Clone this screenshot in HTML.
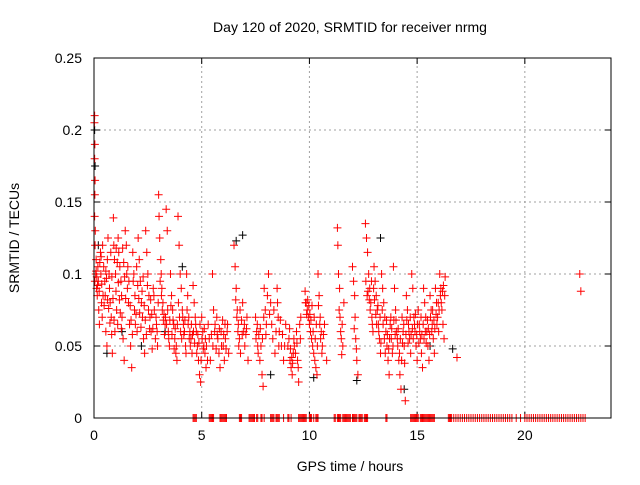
<!DOCTYPE html>
<html><head><meta charset="utf-8"><style>
body{margin:0;background:#fff}
svg text{font-family:"Liberation Sans",sans-serif;font-size:14px;fill:#000}
</style></head><body>
<svg id="chart" width="640" height="480" viewBox="0 0 640 480" xmlns="http://www.w3.org/2000/svg">
<rect width="640" height="480" fill="#fff"/>
<text x="350" y="32" text-anchor="middle">Day 120 of 2020, SRMTID for receiver nrmg</text>
<g id="grid"></g>
<g id="axes"></g>
<g id="black"></g>
<g id="red"></g>
<rect x="94" y="58" width="517" height="360" fill="none" stroke="#000" stroke-width="1"/>
<text x="350" y="471" text-anchor="middle">GPS time / hours</text>
<text transform="translate(19,238) rotate(-90)" text-anchor="middle">SRMTID / TECUs</text>
</svg>
<script>
const xTicks=[0,5,10,15,20];
const yTicks=[0,0.05,0.1,0.15,0.2,0.25];
const yTickLabels=["0","0.05","0.1","0.15","0.2","0.25"];
const redPts=[
[0.02,0.205],[0.03,0.21],[0.04,0.19],[0.03,0.18],[0.05,0.165],[0.04,0.155],[0.03,0.14],[0.06,0.13],[0.05,0.12],[0.04,0.095],[0.08,0.1],[0.1,0.11],[0.12,0.09],[0.15,0.085],[0.18,0.105],[0.2,0.095],[0.22,0.075],[0.25,0.065],[0.3,0.115],[0.32,0.1],[0.35,0.08],[0.38,0.07],[0.4,0.12],[0.45,0.105],[0.5,0.095],[0.52,0.085],[0.55,0.06],[0.6,0.05],[0.62,0.11],[0.65,0.125],[0.7,0.1],[0.72,0.09],[0.75,0.08],[0.8,0.07],[0.82,0.058],[0.85,0.045],[0.9,0.139],[0.92,0.12],[0.95,0.11],[1.0,0.1],[1.02,0.088],[1.05,0.075],[1.1,0.065],[1.12,0.125],[1.15,0.115],[1.2,0.105],[1.25,0.095],[1.28,0.085],[1.3,0.07],[1.35,0.055],[1.4,0.04],[1.45,0.13],[1.5,0.12],[1.52,0.1],[1.55,0.09],[1.6,0.08],[1.65,0.065],[1.7,0.05],[1.75,0.035],[1.8,0.115],[1.85,0.1],[1.9,0.085],[1.95,0.072],[2.0,0.06],[2.05,0.125],[2.1,0.11],[2.15,0.095],[2.2,0.08],[2.25,0.07],[2.3,0.055],[2.35,0.045],[2.4,0.13],[2.45,0.115],[2.5,0.1],[2.55,0.085],[2.6,0.07],[2.65,0.06],[2.7,0.048],[2.75,0.09],[2.8,0.075],[2.9,0.065],[2.95,0.05],[3.0,0.155],[3.02,0.14],[3.05,0.125],[3.1,0.11],[3.12,0.1],[3.15,0.09],[3.2,0.08],[3.25,0.072],[3.3,0.065],[3.35,0.145],[3.4,0.13],[3.45,0.06],[3.5,0.05],[3.55,0.1],[3.6,0.085],[3.65,0.075],[3.7,0.065],[3.75,0.055],[3.8,0.045],[3.85,0.04],[3.9,0.14],[3.95,0.12],[4.0,0.1],[4.05,0.09],[4.1,0.075],[4.15,0.065],[4.2,0.06],[4.25,0.05],[4.3,0.1],[4.35,0.085],[4.4,0.07],[4.45,0.06],[4.5,0.055],[4.55,0.045],[4.6,0.092],[4.65,0.08],[4.7,0.07],[4.75,0.06],[4.8,0.05],[4.85,0.04],[4.9,0.03],[4.95,0.025],[5.0,0.07],[5.05,0.06],[5.1,0.05],[5.15,0.045],[5.2,0.035],[5.3,0.065],[5.35,0.055],[5.4,0.04],[5.5,0.1],[5.55,0.075],[5.6,0.06],[5.7,0.07],[5.75,0.055],[5.8,0.045],[5.85,0.035],[5.9,0.06],[6.0,0.05],[6.05,0.04],[6.1,0.055],[6.2,0.065],[6.25,0.045],[6.5,0.12],[6.55,0.105],[6.6,0.09],[6.65,0.075],[6.7,0.065],[6.75,0.055],[6.8,0.045],[6.9,0.08],[6.95,0.06],[7.0,0.05],[7.1,0.07],[7.15,0.04],[7.5,0.07],[7.55,0.06],[7.6,0.05],[7.7,0.04],[7.8,0.03],[7.85,0.022],[7.9,0.09],[7.95,0.075],[8.0,0.065],[8.1,0.1],[8.2,0.08],[8.3,0.055],[8.4,0.045],[8.5,0.09],[8.55,0.07],[8.6,0.06],[8.7,0.05],[8.8,0.04],[8.9,0.065],[9.0,0.05],[9.05,0.055],[9.1,0.04],[9.15,0.035],[9.2,0.03],[9.25,0.045],[9.3,0.05],[9.4,0.06],[9.45,0.04],[9.5,0.025],[9.55,0.065],[9.6,0.07],[9.8,0.088],[9.85,0.08],[9.9,0.075],[9.95,0.07],[10.0,0.065],[10.05,0.06],[10.1,0.055],[10.15,0.05],[10.2,0.045],[10.25,0.04],[10.3,0.035],[10.35,0.03],[10.4,0.1],[10.45,0.085],[10.5,0.07],[10.55,0.06],[10.6,0.05],[10.7,0.065],[10.8,0.04],[11.3,0.132],[11.32,0.12],[11.35,0.1],[11.4,0.09],[11.42,0.07],[11.45,0.06],[11.5,0.044],[11.55,0.05],[11.6,0.08],[12.0,0.105],[12.05,0.095],[12.1,0.085],[12.15,0.055],[12.2,0.04],[12.25,0.03],[12.6,0.135],[12.65,0.125],[12.7,0.115],[12.75,0.1],[12.8,0.09],[12.85,0.08],[12.9,0.07],[12.95,0.06],[13.0,0.105],[13.05,0.095],[13.1,0.085],[13.15,0.075],[13.2,0.065],[13.25,0.055],[13.3,0.045],[13.35,0.1],[13.4,0.09],[13.45,0.08],[13.5,0.07],[13.55,0.06],[13.6,0.05],[13.65,0.04],[13.7,0.03],[13.75,0.065],[13.8,0.055],[13.85,0.045],[13.9,0.105],[13.95,0.09],[14.0,0.075],[14.05,0.06],[14.1,0.05],[14.15,0.04],[14.2,0.03],[14.25,0.02],[14.3,0.07],[14.35,0.06],[14.4,0.05],[14.45,0.012],[14.5,0.085],[14.55,0.075],[14.6,0.065],[14.65,0.055],[14.7,0.045],[14.75,0.1],[14.8,0.09],[14.85,0.07],[14.9,0.06],[14.95,0.05],[15.0,0.04],[15.05,0.075],[15.1,0.065],[15.15,0.055],[15.2,0.045],[15.25,0.035],[15.3,0.09],[15.35,0.08],[15.4,0.07],[15.45,0.06],[15.5,0.05],[15.55,0.04],[15.6,0.085],[15.65,0.075],[15.7,0.065],[15.75,0.055],[15.8,0.045],[15.85,0.09],[15.9,0.08],[15.95,0.07],[16.0,0.06],[16.05,0.1],[16.1,0.09],[16.15,0.075],[16.2,0.065],[16.25,0.055],[16.3,0.098],[16.85,0.042],[22.55,0.1],[22.6,0.088]
];
const redPtsExtra=[
[0.1,0.102],[0.13,0.098],[0.16,0.092],[0.24,0.088],[0.27,0.108],[0.33,0.112],[0.36,0.093],[0.42,0.085],[0.47,0.078],[0.55,0.102],[0.58,0.097],[0.63,0.082],[0.68,0.076],[0.74,0.066],[0.78,0.115],[0.83,0.098],[0.88,0.083],[0.93,0.068],[0.97,0.06],[1.03,0.118],[1.08,0.108],[1.13,0.094],[1.18,0.082],[1.22,0.073],[1.27,0.062],[1.33,0.118],[1.38,0.108],[1.42,0.098],[1.47,0.083],[1.57,0.105],[1.62,0.095],[1.68,0.078],[1.72,0.068],[1.78,0.058],[1.82,0.095],[1.88,0.075],[1.92,0.065],[1.98,0.105],[2.03,0.092],[2.08,0.083],[2.12,0.073],[2.18,0.063],[2.23,0.088],[2.28,0.098],[2.33,0.078],[2.38,0.068],[2.43,0.058],[2.48,0.092],[2.53,0.075],[2.58,0.062],[2.63,0.082],[2.68,0.072],[2.73,0.062],[2.78,0.085],[2.85,0.055],[2.88,0.07],[2.93,0.06],[2.98,0.08],[3.07,0.095],[3.13,0.085],[3.17,0.075],[3.22,0.068],[3.27,0.058],[3.32,0.07],[3.37,0.065],[3.42,0.075],[3.47,0.055],[3.52,0.068],[3.57,0.078],[3.62,0.058],[3.67,0.068],[3.72,0.048],[3.77,0.062],[3.82,0.05],[3.87,0.065],[3.92,0.08],[3.97,0.07],[4.02,0.06],[4.07,0.055],[4.12,0.07],[4.17,0.058],[4.22,0.068],[4.27,0.045],[4.32,0.075],[4.37,0.065],[4.42,0.055],[4.47,0.05],[4.52,0.065],[4.57,0.058],[4.62,0.06],[4.67,0.052],[4.72,0.065],[4.77,0.045],[4.82,0.058],[4.87,0.052],[4.92,0.065],[4.97,0.04],[5.02,0.055],[5.07,0.048],[5.12,0.062],[5.17,0.055],[5.22,0.05],[5.27,0.04],[5.45,0.058],[5.52,0.05],[5.62,0.065],[5.67,0.048],[5.72,0.058],[5.82,0.062],[5.92,0.05],[5.97,0.068],[6.02,0.058],[6.08,0.065],[6.13,0.048],[6.18,0.06],[6.58,0.082],[6.63,0.07],[6.68,0.06],[6.72,0.05],[6.78,0.075],[6.85,0.068],[6.88,0.058],[6.98,0.065],[7.05,0.058],[7.08,0.062],[7.52,0.055],[7.58,0.065],[7.62,0.045],[7.65,0.058],[7.72,0.062],[7.75,0.05],[7.82,0.055],[7.88,0.07],[7.98,0.058],[8.05,0.085],[8.15,0.072],[8.25,0.065],[8.35,0.075],[8.45,0.06],[8.52,0.08],[8.58,0.05],[8.65,0.068],[8.75,0.058],[8.85,0.05],[9.08,0.062],[9.12,0.048],[9.18,0.042],[9.22,0.038],[9.28,0.055],[9.35,0.045],[9.42,0.052],[9.48,0.035],[9.58,0.055],[9.82,0.08],[9.87,0.072],[9.92,0.082],[9.97,0.078],[10.02,0.072],[10.07,0.068],[10.12,0.078],[10.17,0.06],[10.22,0.07],[10.27,0.055],[10.32,0.065],[10.37,0.05],[10.42,0.078],[10.48,0.065],[10.52,0.055],[10.58,0.045],[10.65,0.058],[11.38,0.075],[11.48,0.055],[11.52,0.065],[12.08,0.062],[12.12,0.07],[12.18,0.048],[12.62,0.095],[12.68,0.085],[12.72,0.088],[12.78,0.082],[12.82,0.075],[12.88,0.095],[12.92,0.065],[12.98,0.09],[13.02,0.082],[13.08,0.072],[13.12,0.065],[13.18,0.078],[13.22,0.06],[13.28,0.07],[13.32,0.052],[13.38,0.075],[13.42,0.065],[13.48,0.055],[13.52,0.045],[13.58,0.068],[13.62,0.058],[13.68,0.048],[13.72,0.055],[13.78,0.07],[13.82,0.062],[13.88,0.05],[13.92,0.068],[13.98,0.058],[14.02,0.068],[14.08,0.055],[14.12,0.062],[14.18,0.045],[14.22,0.055],[14.28,0.04],[14.32,0.052],[14.38,0.065],[14.42,0.038],[14.48,0.058],[14.52,0.068],[14.58,0.052],[14.62,0.06],[14.68,0.07],[14.72,0.058],[14.78,0.062],[14.82,0.055],[14.88,0.065],[14.92,0.072],[14.98,0.058],[15.02,0.065],[15.08,0.052],[15.12,0.06],[15.18,0.07],[15.22,0.058],[15.28,0.065],[15.32,0.055],[15.38,0.06],[15.42,0.052],[15.48,0.068],[15.52,0.062],[15.58,0.058],[15.62,0.07],[15.68,0.06],[15.72,0.075],[15.78,0.068],[15.82,0.062],[15.88,0.072],[15.92,0.065],[15.98,0.08],[16.02,0.075],[16.08,0.085],[16.12,0.08],[16.18,0.088],[16.22,0.092],[16.28,0.085]
];
const blackPts=[[0.03,0.2],[0.05,0.175],[0.2,0.12],[0.6,0.045],[1.3,0.06],[2.2,0.05],[3.3,0.06],[4.1,0.105],[6.6,0.123],[6.9,0.127],[8.2,0.03],[10.2,0.028],[12.2,0.026],[13.3,0.125],[14.4,0.02],[15.6,0.05],[16.65,0.048]];
const zeroT=[4.6,4.65,4.7,4.75,5.35,5.4,5.45,5.5,5.55,5.85,5.9,5.95,6.0,6.05,6.1,6.15,6.75,6.8,6.85,7.2,7.25,7.3,7.35,7.4,7.45,7.55,7.6,7.75,7.8,7.9,8.2,8.25,8.3,8.35,8.45,8.5,8.55,8.6,8.8,9.0,9.05,9.15,9.5,9.55,9.6,9.65,9.7,9.75,9.8,9.85,10.0,10.05,10.1,10.2,10.3,10.35,10.4,11.15,11.2,11.3,11.35,11.4,11.45,11.55,11.6,11.65,11.7,11.75,11.8,11.85,11.9,12.0,12.05,12.1,12.15,12.2,12.3,12.35,12.4,12.45,12.55,12.6,12.65,12.7,13.55,13.6,14.7,14.75,14.8,14.85,14.9,14.95,15.0,15.05,15.15,15.2,15.25,15.3,15.35,15.4,15.45,15.5,15.55,15.6,15.65,15.7,15.75,15.8,16.45,16.5,16.55,16.6,16.7,16.8,16.9,17.0,17.1,17.2,17.3,17.4,17.5,17.6,17.7,17.8,17.9,18.0,18.1,18.2,18.3,18.4,18.5,18.6,18.7,18.8,18.9,19.0,19.1,19.2,19.3,19.4,19.6,19.8,20.0,20.1,20.2,20.3,20.4,20.5,20.6,20.7,20.8,20.9,21.0,21.1,21.2,21.3,21.4,21.5,21.6,21.7,21.8,21.9,22.0,22.1,22.2,22.3,22.4,22.5,22.6,22.7,22.8];
const X0=94,X1=611,Y0=418,Y1=58;
function xs(t){return X0+(t/24)*(X1-X0);}
function ys(v){return Y0-(v/0.25)*(Y0-Y1);}
const NS="http://www.w3.org/2000/svg";
function mk(tag,attrs,parent){const e=document.createElementNS(NS,tag);for(const k in attrs)e.setAttribute(k,attrs[k]);parent.appendChild(e);return e;}
const grid=document.getElementById('grid'),axes=document.getElementById('axes');
xTicks.forEach(t=>{
  const x=xs(t);
  if(t>0){const g=mk('line',{x1:x,x2:x,y1:Y0,y2:Y1,stroke:'#a0a0a0','stroke-dasharray':'2,3'},grid);
  
  }
  const tk=mk('line',{x1:x,x2:x,y1:Y0,y2:Y0-6,stroke:'#000'},axes);
  
  
  const tk2=mk('line',{x1:x,x2:x,y1:Y1,y2:Y1+6,stroke:'#000'},axes);
  
  
  const l=mk('text',{x:x,y:Y0+22,'text-anchor':'middle'},axes);l.textContent=String(t);
  
  
});
yTicks.forEach((v,i)=>{
  const y=ys(v);
  if(v>0&&v<0.25){const g=mk('line',{x1:X0,x2:X1,y1:y,y2:y,stroke:'#a0a0a0','stroke-dasharray':'2,3'},grid);
  
  }
  const tk=mk('line',{x1:X0,x2:X0+6,y1:y,y2:y,stroke:'#000'},axes);
  
  
  const tk2=mk('line',{x1:X1,x2:X1-6,y1:y,y2:y,stroke:'#000'},axes);
  
  
  const l=mk('text',{x:X0-12,y:y+5,'text-anchor':'end'},axes);l.textContent=yTickLabels[i];
  
  
});
function cross(g,t,v,col){
  const x=xs(t),y=ys(v);
  const p=mk('path',{d:`M${x-4},${y}h8M${x},${y-4}v8`,stroke:col,'stroke-width':1,fill:'none'},g);
  
  
}
const bg=document.getElementById('black'),rg=document.getElementById('red');
blackPts.forEach(p=>cross(bg,p[0],p[1],'#000'));
redPts.forEach(p=>cross(rg,p[0],p[1],'#f00'));
redPtsExtra.forEach(p=>cross(rg,p[0],p[1],'#f00'));
zeroT.forEach(t=>cross(rg,t,0,'#f00'));
</script>
</body></html>
